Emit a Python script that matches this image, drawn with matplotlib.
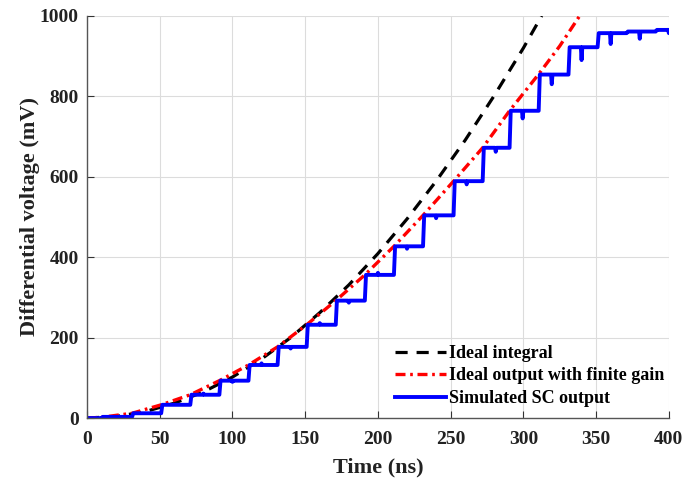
import matplotlib.pyplot as plt

# ideal integral (black dashed)
t_ideal = [0, 20, 40, 60, 80, 100, 120, 140, 160, 180, 200, 220, 240, 260, 280, 300, 312.6]
v_ideal = [0, 4, 16, 37, 65, 102, 147, 200, 262, 331, 409, 495, 589, 691, 802, 920, 1000]

# ideal output with finite gain (red dash-dot)
t_gain = [0, 10, 31, 51, 71, 91, 111, 131, 151, 171, 191, 211, 231, 252, 272, 290.5, 310.5, 325, 338.7]
v_gain = [0, 2, 12, 33, 58, 93, 132, 177, 232, 292, 356, 427, 504, 589, 672, 764, 855, 925, 1000]

# simulated SC output: step edges, held levels and the glitch mid-step
t_rise = [10, 31, 51, 71, 91, 111, 131, 151, 171, 191, 211, 231, 252, 272, 290.5, 310.5, 331, 351, 371, 391]
levels = [0, 3, 12, 33, 58, 93, 132, 177, 232, 292, 356, 427, 504, 589, 672, 764, 854, 922, 957, 961, 965]
glitch = [0, 0, 0, 0, 3, -3, 4, -4, 4, -5, 5, -6, -7, -8, -10, -19, -24, -32, -27, -18, -8]

# build the staircase path
ts = [0]
vs = [levels[0]]
for k in range(len(t_rise)):
    t0 = t_rise[k]
    ts += [t0, t0 + 0.8]
    vs += [levels[k], levels[k + 1]]
    g = glitch[k + 1]
    ts += [t0 + 8.5, t0 + 9.0, t0 + 9.5]
    vs += [levels[k + 1], levels[k + 1] + g, levels[k + 1]]
ts.append(400)
vs.append(levels[-1])

plt.rcParams['font.family'] = 'Liberation Serif'
plt.rcParams['font.weight'] = 'bold'

fig = plt.figure(figsize=(6.96, 4.8), dpi=100)
ax = fig.add_axes([0.125, 0.129, 0.836, 0.838])

ax.plot(t_ideal, v_ideal, color='black', linewidth=2.3, dashes=(3.8, 2.8),
        label='Ideal integral')
ax.plot(t_gain, v_gain, color='red', linewidth=2.4, dashes=(3.0, 1.4, 0.8, 1.4),
        label='Ideal output with finite gain')
ax.plot(ts, vs, color='blue', linewidth=2.8, label='Simulated SC output')

ax.set_xlim(0, 400)
ax.set_ylim(0, 1000)
ax.set_xticks(range(0, 401, 50))
ax.set_yticks(range(0, 1001, 200))
ax.grid(True, color='#dcdcdc', linewidth=0.8)
ax.set_axisbelow(True)

for s in ['top', 'right']:
    ax.spines[s].set_visible(False)
for s in ['left', 'bottom']:
    ax.spines[s].set_color('#555555')
    ax.spines[s].set_linewidth(1.0)
ax.tick_params(direction='in', length=5, color='#333333', labelsize=14)
ax.tick_params(axis='x', pad=9)
ax.tick_params(axis='y', pad=6)
for lab in ax.get_xticklabels() + ax.get_yticklabels():
    lab.set_fontweight('bold')
    lab.set_color('#222222')

ax.set_xlabel('Time (ns)', fontsize=16, fontweight='bold', color='#222222', labelpad=7)
ax.set_ylabel('Differential voltage (mV)', fontsize=16, fontweight='bold', color='#222222', labelpad=0)

ax.legend(loc='lower right', frameon=False, handlelength=2.8,
          handletextpad=0.15, labelspacing=0.3, borderaxespad=0.0,
          bbox_to_anchor=(1.004, 0.01),
          prop={'weight': 'bold', 'size': 13})

fig.savefig('out.png', dpi=100)
